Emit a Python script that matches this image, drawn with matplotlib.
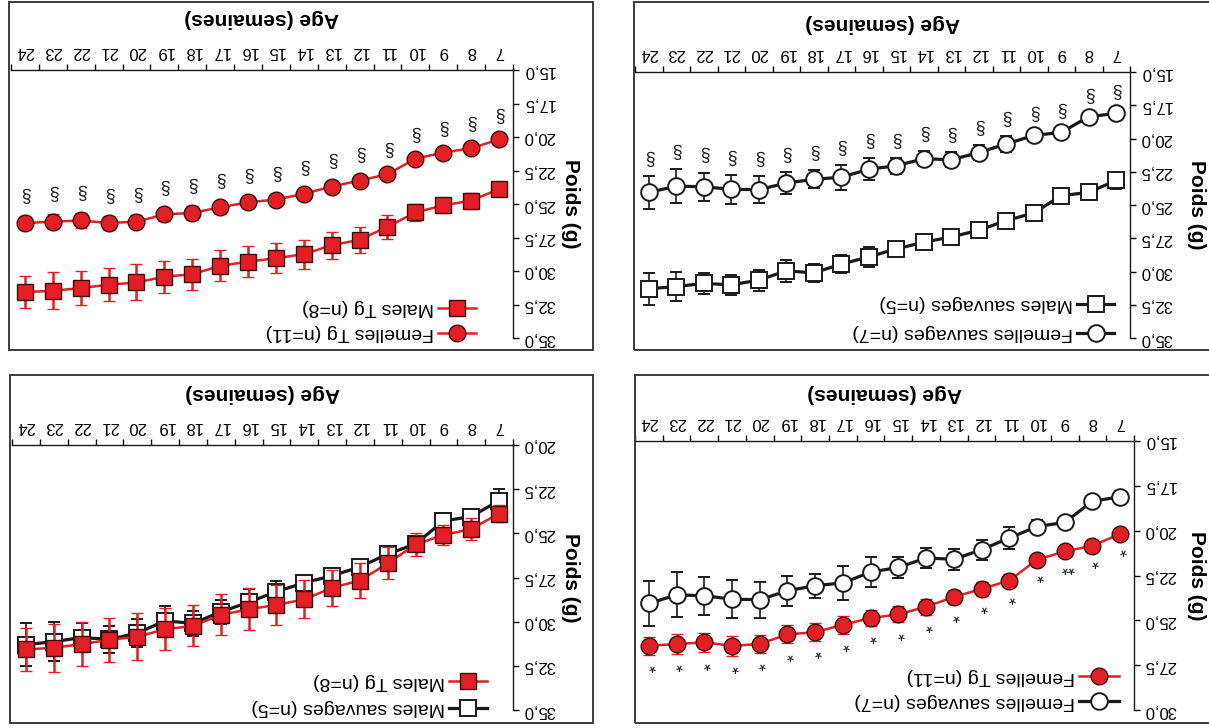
import numpy as np
import matplotlib
matplotlib.use("Agg")
import matplotlib.pyplot as plt
from matplotlib.patches import Rectangle

plt.rcParams['font.family'] = ['Liberation Sans', 'DejaVu Sans']

W, H = 1209, 728

# ---- data (poids moyen en g, semaines 7 a 24) ----
weeks = [7, 8, 9, 10, 11, 12, 13, 14, 15, 16, 17, 18, 19, 20, 21, 22, 23, 24]
week_labels = [str(w) for w in weeks]

femelles_sauvages = [18.11, 18.36, 19.54, 19.77, 20.41, 21.06, 21.60, 21.52, 22.05,
                     22.31, 22.91, 23.07, 23.35, 23.85, 23.82, 23.63, 23.58, 24.06]
femelles_sauvages_err = [0.30, 0.30, 0.30, 0.35, 0.60, 0.56, 0.58, 0.56, 0.60,
                         0.84, 0.93, 0.68, 0.83, 1.00, 1.07, 1.07, 1.26, 1.25]
femelles_tg = [20.18, 20.84, 21.16, 21.62, 22.78, 23.25, 23.70, 24.24, 24.67,
               24.87, 25.25, 25.66, 25.78, 26.32, 26.42, 26.23, 26.32, 26.42]
femelles_tg_err = [0.25, 0.30, 0.30, 0.30, 0.35, 0.40, 0.40, 0.45, 0.45,
                   0.45, 0.50, 0.50, 0.50, 0.50, 0.55, 0.55, 0.55, 0.50]
males_sauvages = [23.15, 24.05, 24.30, 25.60, 26.17, 26.90, 27.40, 27.80, 28.30,
                  28.90, 29.45, 30.10, 29.95, 30.65, 31.00, 30.90, 31.13, 31.30]
males_sauvages_err = [0.65, 0.45, 0.45, 0.40, 0.35, 0.35, 0.40, 0.45, 0.60,
                      0.75, 0.70, 0.70, 0.83, 0.80, 0.75, 0.80, 1.10, 1.20]
males_tg = [23.88, 24.75, 25.10, 25.63, 26.70, 27.67, 28.08, 28.74, 29.05,
            29.30, 29.62, 30.24, 30.43, 30.85, 31.03, 31.27, 31.48, 31.57]
males_tg_err = [0.50, 0.60, 0.55, 0.65, 0.90, 0.97, 1.02, 1.08, 1.12,
                1.18, 1.16, 1.16, 1.20, 1.34, 1.24, 1.25, 1.37, 1.20]

# marques de significativite
sig_sexe = ['§', '§', '§', '§', '§', '§', '§', '§', '§',
            '§', '§', '§', '§', '§', '§', '§', '§', '§']
sig_genotype = ['*', '*', '**', '*', '*', '*', '*', '*', '*',
                '*', '*', '*', '*', '*', '*', '*', '*', '*']

yticks_15_35 = [15, 17.5, 20, 22.5, 25, 27.5, 30, 32.5, 35]
yticks_15_30 = [15, 17.5, 20, 22.5, 25, 27.5, 30]
yticks_20_35 = [20, 22.5, 25, 27.5, 30, 32.5, 35]

lab_fs = 'Femelles sauvages (n=7)'
lab_ft = 'Femelles Tg (n=11)'
lab_ms = 'Males sauvages (n=5)'
lab_mt = 'Males Tg (n=8)'

RED = '#e31e24'
DARK = '#1a1a1a'

STYLES = {
    'fs': dict(marker='o', red=False),
    'ft': dict(marker='o', red=True),
    'ms': dict(marker='s', red=False),
    'mt': dict(marker='s', red=True),
}


def px_rect(x0, y0, x1, y1):
    """pixel box (top-left origin) -> figure fraction rect"""
    return [x0 / W, 1 - y1 / H, (x1 - x0) / W, (y1 - y0) / H]


def line_kw(key):
    st = STYLES[key]
    if st['red']:
        return dict(color=RED, lw=1.8, marker=st['marker'], ms=12, mfc=RED,
                    mec='#3a0d0d', mew=1.0)
    return dict(color=DARK, lw=2.3, marker=st['marker'], ms=12, mfc='white',
                mec=DARK, mew=1.4)


def draw_series(ax, key, vals, errs, zorder=2):
    st = STYLES[key]
    kw = line_kw(key)
    if st['red']:
        ekw = dict(ecolor=RED, elinewidth=1.8, capsize=4, capthick=2.2)
    else:
        ekw = dict(ecolor=DARK, elinewidth=1.2, capsize=4,
                   capthick=2.6 if st['marker'] == 's' else 1.2)
    ax.errorbar(weeks, vals, yerr=errs, zorder=zorder, **kw, **ekw)


def setup_axes(ax, yticks):
    ax.set_xlim(24.5, 6.5)
    ax.set_ylim(yticks[-1], yticks[0])
    for s in ['bottom', 'left']:
        ax.spines[s].set_visible(False)
    for s in ['top', 'right']:
        ax.spines[s].set_linewidth(1.0)
        ax.spines[s].set_color(DARK)
    ax.xaxis.tick_top()
    ax.yaxis.tick_right()
    ax.set_xticks(np.arange(6.5, 24.6, 1.0))
    ax.set_xticklabels([])
    ax.set_xticks(weeks, minor=True)
    ax.set_xticklabels(week_labels, minor=True, rotation=180, fontsize=12)
    ax.tick_params(axis='x', which='major', length=4, width=1, top=True,
                   bottom=False, labeltop=False, labelbottom=False)
    ax.tick_params(axis='x', which='minor', length=0, pad=8, top=True,
                   bottom=False, labeltop=True, labelbottom=False)
    ax.set_yticks(yticks)
    ax.set_yticklabels([f"{v:.1f}".replace('.', ',') for v in yticks],
                       rotation=180, fontsize=12, va='center')
    ax.tick_params(axis='y', length=4, width=1, pad=3, right=True, left=False,
                   labelright=True, labelleft=False)


def draw_labels(ax, age_y, poids_x):
    ax.text(0.5, age_y, 'Age (semaines)', transform=ax.transAxes, rotation=180,
            ha='center', va='center', fontsize=15, fontweight='bold')
    ax.text(poids_x, 0.5, 'Poids (g)', transform=ax.transAxes, rotation=270,
            ha='center', va='center', fontsize=15, fontweight='bold')


def draw_legend(ax, keys, labels, x0, x1, rows):
    for key, label, y in zip(keys, labels, rows):
        kw = line_kw(key)
        ax.plot([x0, (x0 + x1) / 2, x1], [y, y, y], transform=ax.transAxes,
                markevery=[1], clip_on=False, zorder=5, **kw)
        ax.text(x0 - 0.008, y, label, transform=ax.transAxes, rotation=180,
                ha='right', va='center', fontsize=14)


def mark(ax, vals, errs, syms, sign, off, size, dx=0):
    for w, v, e, s in zip(weeks, vals, errs, syms):
        ax.annotate(s, (w, v - sign * e), xytext=(dx, sign * off),
                    textcoords='offset points', rotation=180, ha='center',
                    va='center', fontsize=size, color=DARK)


fig = plt.figure(figsize=(W / 100, H / 100), dpi=100)

# panel frames
for (x0, y0, x1, y1) in [(9, 2, 593, 350), (634, 2, 1216, 350),
                         (10, 375, 593, 723), (635, 375, 1216, 723)]:
    fig.add_artist(Rectangle((x0 / W, 1 - y1 / H), (x1 - x0) / W, (y1 - y0) / H,
                             transform=fig.transFigure, fill=False,
                             ec='#3c3c3c', lw=1.4))

# top-left : Femelles Tg / Males Tg
ax = fig.add_axes(px_rect(11, 70, 513, 338))
setup_axes(ax, yticks_15_35)
draw_series(ax, 'ft', femelles_tg, femelles_tg_err)
draw_series(ax, 'mt', males_tg, males_tg_err)
mark(ax, femelles_tg, femelles_tg_err, sig_sexe, 1, 16, 13)
draw_legend(ax, ['ft', 'mt'], [lab_ft, lab_mt], 0.850, 0.927, [0.019, 0.112])
draw_labels(ax, 1.194, 1.114)

# top-right : Femelles sauvages / Males sauvages
ax = fig.add_axes(px_rect(635, 72, 1130, 338))
setup_axes(ax, yticks_15_35)
draw_series(ax, 'fs', femelles_sauvages, femelles_sauvages_err)
draw_series(ax, 'ms', males_sauvages, males_sauvages_err)
mark(ax, femelles_sauvages, femelles_sauvages_err, sig_sexe, 1, 14, 13)
draw_legend(ax, ['fs', 'ms'], [lab_fs, lab_ms], 0.893, 0.968, [0.019, 0.128])
draw_labels(ax, 1.184, 1.135)

# bottom-left : Males sauvages / Males Tg
ax = fig.add_axes(px_rect(12, 445, 513, 710))
setup_axes(ax, yticks_20_35)
draw_series(ax, 'ms', males_sauvages, males_sauvages_err, zorder=2)
draw_series(ax, 'mt', males_tg, males_tg_err, zorder=3)
draw_legend(ax, ['ms', 'mt'], [lab_ms, lab_mt], 0.872, 0.949, [0.008, 0.109])
draw_labels(ax, 1.196, 1.114)

# bottom-right : Femelles sauvages / Femelles Tg
ax = fig.add_axes(px_rect(635, 441, 1134, 710))
setup_axes(ax, yticks_15_30)
draw_series(ax, 'fs', femelles_sauvages, femelles_sauvages_err)
draw_series(ax, 'ft', femelles_tg, femelles_tg_err)
mark(ax, femelles_tg, femelles_tg_err, sig_genotype, -1, 6, 13, dx=2)
draw_legend(ax, ['fs', 'ft'], [lab_fs, lab_ft], 0.889, 0.970, [0.033, 0.126])
draw_labels(ax, 1.178, 1.125)

fig.savefig('out.png', dpi=100)
